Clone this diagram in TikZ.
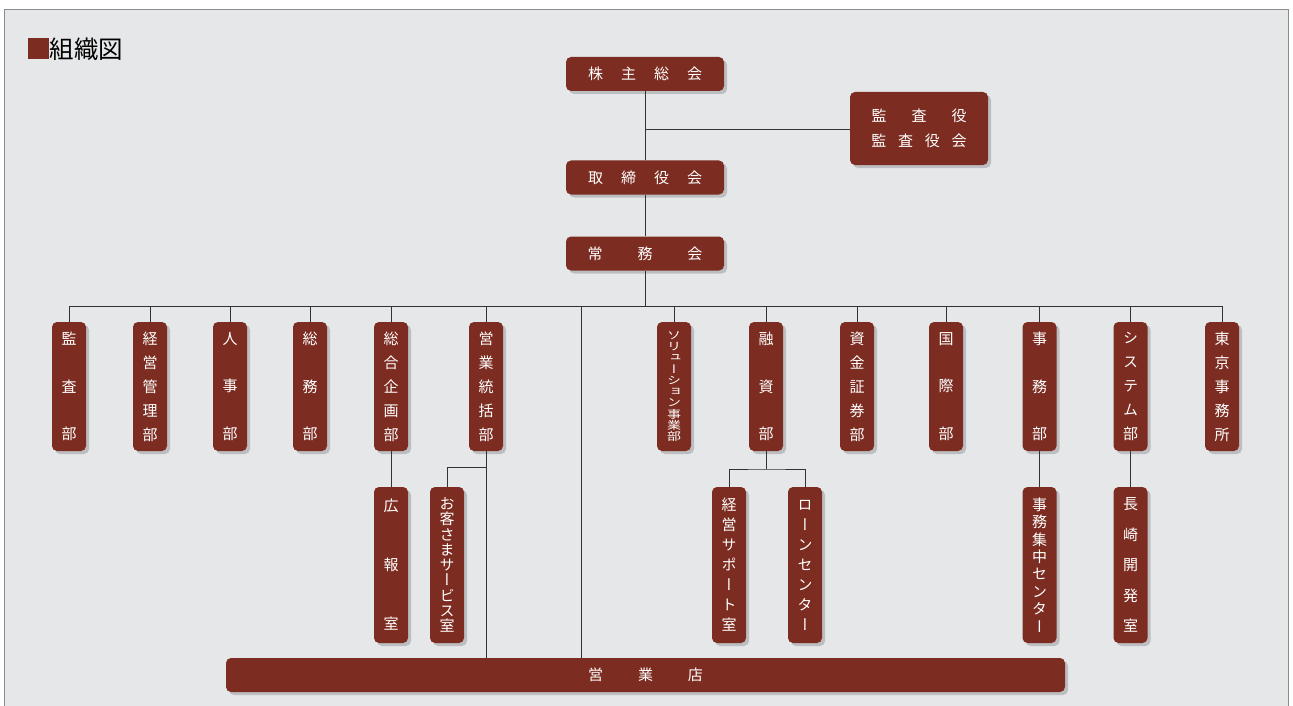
\documentclass[tikz,border=0pt]{standalone}
\usepackage{fontspec}
\usepackage{graphicx}
\usetikzlibrary{shadows}
\newfontfamily\cjk{Noto Sans CJK JP}
\newfontfamily\cjkv[RawFeature=+vert]{Noto Sans CJK JP}
\definecolor{brn}{HTML}{7C2C20}
\definecolor{bgc}{HTML}{E6E7E9}
\definecolor{shd}{HTML}{BDBEC1}
\definecolor{lin}{HTML}{333333}
\definecolor{frm}{HTML}{8A8B8D}
\newcommand{\spc}[2]{\makebox[#1pt]{#2}}
\newcommand{\sqz}[1]{\scalebox{1}[0.78]{#1}}
\tikzset{
  box/.style={fill=brn, text=white, rounded corners=5pt, inner sep=0pt,
    drop shadow={shadow xshift=3pt, shadow yshift=-3pt, fill=shd, opacity=1}},
  hbox/.style={box, minimum width=158pt, minimum height=34pt, font=\cjk\fontsize{15}{18}\selectfont},
  vbox/.style={box, minimum width=34pt, minimum height=129pt, align=center, font=\cjkv\fontsize{15}{#1}\selectfont},
  wbox/.style={box, minimum width=34pt, minimum height=156pt, align=center, font=\cjkv\fontsize{15}{#1}\selectfont},
  conn/.style={draw=lin, line width=0.9pt}
}
\begin{document}
\begin{tikzpicture}[x=1pt,y=-1pt]
\fill[white] (0,0) rectangle (1293,706);
\useasboundingbox (0,0) rectangle (1293,706);
\draw[frm, line width=1.5pt, fill=bgc] (4.5,9.5) rectangle (1288.5,712);
% title
\node[fill=brn, minimum width=21pt, minimum height=21pt, inner sep=0pt] (tsq) at (38.5,48.5) {};
\node[anchor=west, inner sep=0pt, font=\cjk\fontsize{24.5}{26}\selectfont] (title) at (49.5,49) {組織図};
% top boxes
\node[hbox] (kabu) at (645,74) {\spc{33}{株}\spc{33}{主}\spc{33}{総}\spc{33}{会}};
\node[hbox] (tori) at (645,177.5) {\spc{33}{取}\spc{33}{締}\spc{33}{役}\spc{33}{会}};
\node[hbox] (jomu) at (645,253.5) {\spc{50}{常}\spc{50}{務}\spc{50}{会}};
\node[box, minimum width=138pt, minimum height=73pt, align=center, font=\cjk\fontsize{15}{25}\selectfont] (kansa) at (919,128.5)
  {\spc{40}{監}\spc{40}{査}\spc{40}{役}\\\spc{26.7}{監}\spc{26.7}{査}\spc{26.7}{役}\spc{26.7}{会}};
% departments
\node[vbox=47.5] (d1) at (69,386.5) {監\\査\\部};
\node[vbox=24] (d2) at (150,386.5) {経\\営\\管\\理\\部};
\node[vbox=47.5] (d3) at (230,386.5) {人\\事\\部};
\node[vbox=47.5] (d4) at (310,386.5) {総\\務\\部};
\node[vbox=24] (d5) at (391,386.5) {総\\合\\企\\画\\部};
\node[vbox=24] (d6) at (486,386.5) {営\\業\\統\\括\\部};
\node[box, minimum width=34pt, minimum height=129pt, align=center, font=\cjkv\fontsize{14}{11.3}\selectfont] (d7) at (674,386.5)
  {\sqz{ソ}\\\sqz{リ}\\\sqz{ュ}\\\sqz{ー}\\\sqz{シ}\\\sqz{ョ}\\\sqz{ン}\\\sqz{事}\\\sqz{業}\\\sqz{部}};
\node[vbox=47.5] (d8) at (766,386.5) {融\\資\\部};
\node[vbox=24] (d9) at (857,386.5) {資\\金\\証\\券\\部};
\node[vbox=47.5] (d10) at (946,386.5) {国\\際\\部};
\node[vbox=47.5] (d11) at (1039.5,386.5) {事\\務\\部};
\node[vbox=24] (d12) at (1130.5,386.5) {シ\\ス\\テ\\ム\\部};
\node[vbox=24] (d13) at (1222,386.5) {東\\京\\事\\務\\所};
% second level
\node[wbox=59] (s1) at (391,565) {広\\報\\室};
\node[wbox=15.25] (s2) at (447,565) {お\\客\\さ\\ま\\サ\\ー\\ビ\\ス\\室};
\node[wbox=20] (s3) at (729,565) {経\\営\\サ\\ポ\\ー\\ト\\室};
\node[wbox=20] (s4) at (805,565) {ロ\\ー\\ン\\セ\\ン\\タ\\ー};
\node[wbox=17.4] (s5) at (1039.5,565) {事\\務\\集\\中\\セ\\ン\\タ\\ー};
\node[wbox=30.5] (s6) at (1130.5,565) {長\\崎\\開\\発\\室};
% branch office
\node[box, minimum width=839pt, minimum height=34pt, font=\cjk\fontsize{15}{18}\selectfont] (ten) at (645.5,675)
  {\spc{50}{営}\spc{50}{業}\spc{50}{店}};
% connectors
\coordinate (kb) at (645,129);
\coordinate (bus) at (645,306);
\coordinate (trk) at (581,306);
\coordinate (b6) at (486,467);
\coordinate (b8) at (766,469);
\draw[conn] (kabu.south) -- (tori.north);
\draw[conn] (kb) -- (kb -| kansa.west);
\draw[conn] (tori.south) -- (jomu.north);
\draw[conn] (jomu.south) -- (bus);
\draw[conn] (d1.north |- bus) -- (d13.north |- bus);
\foreach \d in {d1,d2,d3,d4,d5,d6,d7,d8,d9,d10,d11,d12,d13}
  \draw[conn] (\d.north |- bus) -- (\d.north);
\draw[conn] (trk) -- (trk |- ten.north);
\draw[conn] (d5.south) -- (s1.north);
\draw[conn] (d6.south) -- (d6.south |- ten.north);
\draw[conn] (b6) -| (s2.north);
\draw[conn] (d8.south) -- (b8);
\draw[conn] (s3.north) |- (b8) -| (s4.north);
\draw[conn] (d11.south) -- (s5.north);
\draw[conn] (d12.south) -- (s6.north);
\end{tikzpicture}
\end{document}
